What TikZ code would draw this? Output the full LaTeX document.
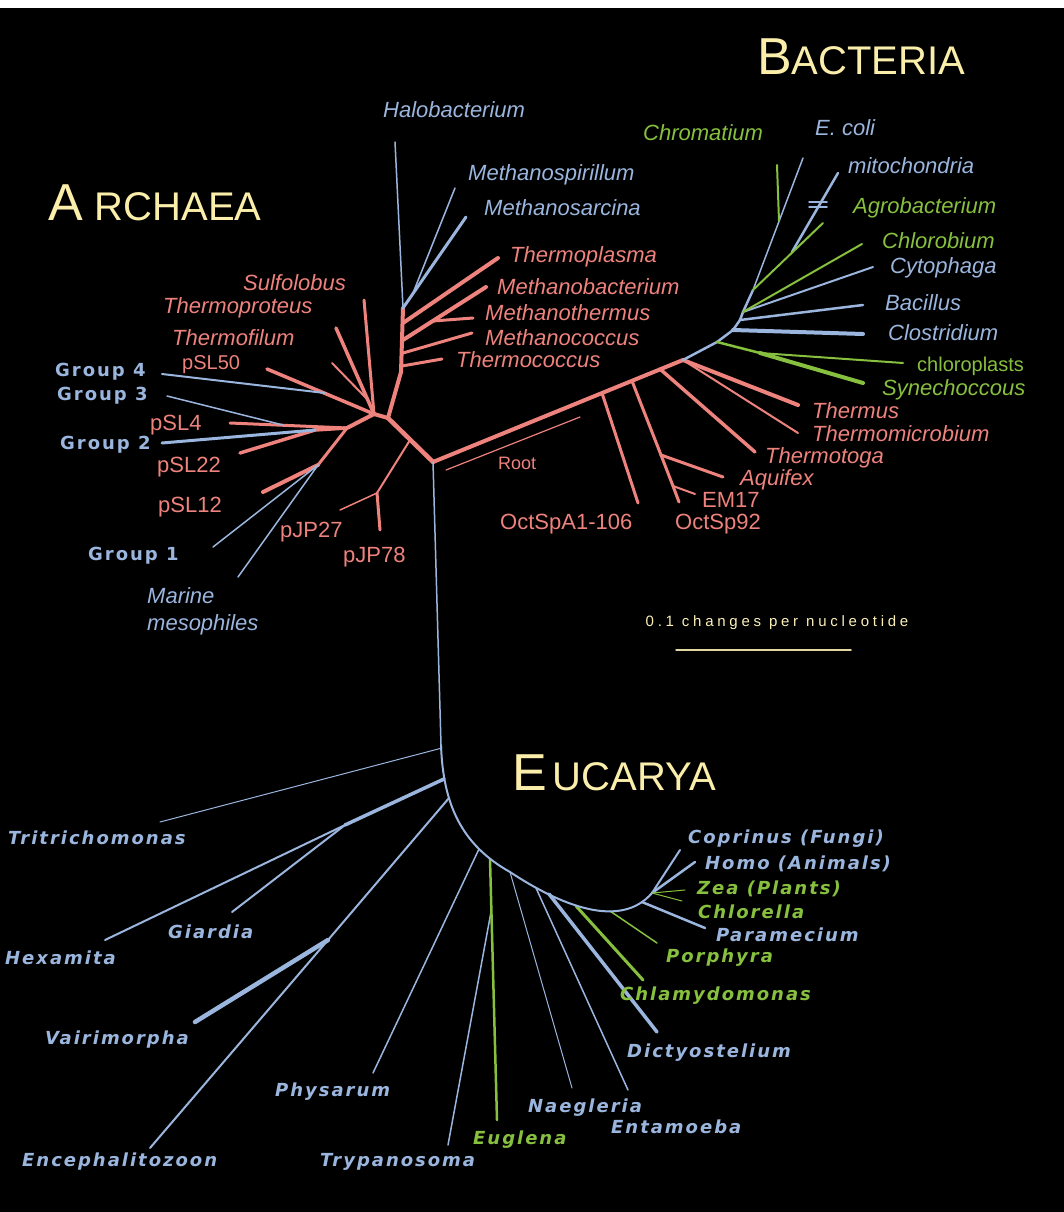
\documentclass[tikz,border=0pt]{standalone}
\usepackage{fontspec}
\setmainfont{Liberation Sans}
\newfontfamily\eufont[LetterSpace=11,BoldFont={DejaVu Sans Bold},BoldItalicFont={DejaVu Sans Bold Oblique}]{DejaVu Sans}
\newfontfamily\barfont[LetterSpace=25]{Liberation Sans}
\definecolor{ArchRed}{RGB}{238,130,125}
\definecolor{BlueGray}{RGB}{155,182,222}
\definecolor{LeafGreen}{RGB}{135,192,62}
\definecolor{Cream}{RGB}{250,238,170}

\begin{document}
\begin{tikzpicture}[x=1pt,y=-1pt,line cap=round,
ar/.style={ArchRed},bl/.style={BlueGray},gr/.style={LeafGreen},
sp/.style={inner sep=0pt,anchor=west,font=\fontsize{22}{27}\selectfont\itshape},
tg/.style={inner sep=0pt,anchor=west,text=ArchRed,font=\fontsize{22}{24}\selectfont},
eu/.style={inner sep=0pt,anchor=west,font=\eufont\fontsize{18}{20}\selectfont\bfseries\itshape},
grp/.style={inner sep=0pt,anchor=west,text=BlueGray,font=\eufont\fontsize{18}{20}\selectfont\bfseries},
dom/.style={inner sep=0pt,anchor=base west,text=Cream}]
\fill[white] (0,0) rectangle (1064,1212);\fill[black] (0,8) rectangle (1064,1212);
\foreach \n/\x/\y in {R0/433/462,J1/388/418,C1/374/414,E1/401/372,E2/403/308,P1/410/440,P2/377/493,pJ78/380/530,pJ27/340/510,
C2/347/428,C2b/315/430,G3b/283/425,G4b/325/393,C3/318/465,Sulf/364/300,Tpro/336/328,TfB/367/399,Tfil/332/363,pS50/267/369,
Grp4/162/374,pS4/230/423,Grp3/167/396,Grp2/162/443,pS22/240/453,pS12/263/492,Grp1/213/547,Mari/238/577,
e1/402/366,e2/403/353,e3/403/340,e4/403/323,Tcoc/442/359,Mcoc/472/333,Mbac/486/287,Mthb/433/321,Mthe/473/318,Tpla/498/258,
Halo/395/142,Msar/466/217,Mspb/413/293,Mspi/455/188,
B1/683/360,Oa/602/393,Oct1/638/503,Ba/632/381,Ba2/661/455,Ba3/673/486,Oct92/679/502,Aqui/723/477,EM/695/494,Tg/660/369,
Ttog/755/452,Thus/798/405,Tmic/798/433,B2/717/342,B3/733/330,B4/740/320,B5/743/312,B6/753/290,Bc/760/353,Chlp/903/363,
Syn/863/383,Clos/863/334,Baci/863/305,Cyto/873/267,Chlb/862/244,Agro/823/223,Mitb/792/252,Mito/838/173,Ecol/803/158,
Chrb/779/221,Chrm/777/165,bA1/809/202,bA2/827/202,bB1/809/207,bB2/827/207,rt1/446/470,rt2/580/417,sb1/676/650,sb2/851/650,
U0/441/745,T1/442/748,Trit/160/822,T2/444/779,Giab/345/825,Hexa/105/940,Giar/232/912,T3/449/798,Vaib/328/940,Ence/150/1148,
Vair/195/1022,T4/479/849,Phys/373/1073,T5/490/859,Eugl/497/1120,Tryb/491/912,Tryp/448/1145,T6/510/872,Naeg/572/1088,
T7/536/888,Enta/628/1090,T8/549/894,Dict/657/1032,T9/576/906,Chla/643/980,T10/610/911,Porp/657/943,T11/642/902,
Para/705/928,T12/652/893,Copr/680/850,Homo/695/862,Zea/685/890,Chlo/682/901}
\coordinate (\n) at (\x,\y);
\foreach \a/\b/\w in {R0/J1/4.5,J1/C1/4,J1/E1/4,E1/E2/4,C1/Sulf/3,C1/Tpro/3.5,TfB/Tfil/2,C1/pS50/3.5,C1/C2/4,C2/pS4/3,
C2/C2b/3.5,C2b/pS22/3.5,C2/C3/3,C3/pS12/4,P1/P2/2,P2/pJ78/3,P2/pJ27/1.5,e1/Tcoc/3,e2/Mcoc/3,e3/Mbac/4,Mthb/Mthe/3,
e4/Tpla/4,R0/B1/4,Oa/Oct1/3,Ba/Ba2/3,Ba2/Ba3/3,Ba3/Oct92/3,Ba2/Aqui/3,Ba3/EM/2,Tg/Ttog/3.5,B1/Thus/4,B1/Tmic/2,rt1/rt2/1.2}
\draw[ar,line width=\w] (\a)--(\b);
\foreach \a/\b/\w in {G4b/Grp4/2,G3b/Grp3/1.5,C2b/Grp2/3,C3/Grp1/1.5,C3/Mari/1.5,E2/Halo/1.5,E2/Msar/3,Mspb/Mspi/1.5,
B1/B2/2.5,B2/B3/2.5,B3/B4/2.5,B4/B5/2.5,B5/B6/2.5,B3/Clos/4,B4/Baci/2.5,B5/Cyto/2,Mitb/Mito/2.5,B6/Ecol/1.5,bA1/bA2/1.5,
bB1/bB2/1.5,R0/U0/1.5,T1/Trit/1,T2/Giab/3.5,Giab/Hexa/2,Giab/Giar/2,T3/Vaib/2,Vaib/Ence/2,Vaib/Vair/4.5,T4/Phys/1.5,
Tryb/Tryp/1.5,T6/Naeg/1,T7/Enta/1.5,T8/Dict/3.5,T11/Para/2.5,T12/Copr/2,T12/Homo/2.5}
\draw[bl,line width=\w] (\a)--(\b);
\foreach \a/\b/\w in {B2/Bc/2.5,Bc/Chlp/2,Bc/Syn/4,B5/Chlb/2,B6/Agro/2,Chrb/Chrm/2,T5/Eugl/2.5,T9/Chla/3,T10/Porp/1.5,
T12/Zea/1,T12/Chlo/1}
\draw[gr,line width=\w] (\a)--(\b);
\draw[bl,line width=2] (U0) .. controls (443,805) and (462,845) .. (T6) .. controls (560,905) and (620,930) .. (T12);
\draw[Cream!80!gray,line width=1.5] (sb1)--(sb2);
\foreach \x/\y/\t/\n in {243/283/Sulfolobus/lSulf,163/308/Thermoproteus/lTpro,172/338/Thermofilum/lTfil,510/257/Thermoplasma/lTpla,
497/287/Methanobacterium/lMbac,485/313/Methanothermus/lMthe,485/338/Methanococcus/lMcoc,456/360/Thermococcus/lTcoc,
812/411/Thermus/lThus,812/434/Thermomicrobium/lTmic,765/458/Thermotoga/lTtog,740/480/Aquifex/lAqui}
\node[sp,text=ArchRed] (\n) at (\x,\y) {\t};
\foreach \x/\y/\t/\n in {383/110/Halobacterium/lHalo,468/175/Methanospirillum/lMspi,484/208/Methanosarcina/lMsar,
815/128/E. coli/lEcol,848/166/mitochondria/lMito,890/268/Cytophaga/lCyto,885/303/Bacillus/lBaci,888/333/Clostridium/lClos}
\node[sp,text=BlueGray] (\n) at (\x,\y) {\t};
\foreach \x/\y/\t/\n in {643/133/Chromatium/lChrm,853/208/Agrobacterium/lAgro,882/241/Chlorobium/lChlb,882/390/Synechoccous/lSyn}
\node[sp,text=LeafGreen] (\n) at (\x,\y) {\t};
\node[sp,text=BlueGray,align=left] (lMari) at (147,611) {Marine\\mesophiles};
\foreach \x/\y/\t/\n in {150/425/pSL4/lpS4,157/467/pSL22/lpS22,158/507/pSL12/lpS12,280/532/pJP27/lpJ27,343/557/pJP78/lpJ78,
702/500/EM17/lEM,675/524/OctSp92/lOct92,500/524/OctSpA1-106/lOct1}
\node[tg] (\n) at (\x,\y) {\t};
\node[tg,font=\fontsize{20}{22}\selectfont] (lpS50) at (182,365) {pSL50};
\node[tg,font=\fontsize{18}{20}\selectfont] (lRoot) at (498,463) {Root};
\node[tg,text=LeafGreen,font=\fontsize{20}{22}\selectfont] (lChlp) at (917,366) {chloroplasts};
\foreach \x/\y/\t/\n in {55/372/Group 4/lG4,57/396/Group 3/lG3,60/445/Group 2/lG2,88/556/Group 1/lG1}
\node[grp] (\n) at (\x,\y) {\t};
\foreach \x/\y/\t/\n in {8/838/Tritrichomonas/lTrit,5/958/Hexamita/lHexa,168/932/Giardia/lGiar,45/1040/Vairimorpha/lVair,
22/1162/Encephalitozoon/lEnce,275/1092/Physarum/lPhys,320/1162/Trypanosoma/lTryp,528/1108/Naegleria/lNaeg,
611/1127/Entamoeba/lEnta,627/1053/Dictyostelium/lDict,716/935/Paramecium/lPara,705/864/Homo (Animals)/lHomo,
688/839/Coprinus (Fungi)/lCopr}
\node[eu,text=BlueGray] (\n) at (\x,\y) {\t};
\foreach \x/\y/\t/\n in {473/1140/Euglena/lEugl,620/996/Chlamydomonas/lChla,666/958/Porphyra/lPorp,698/912/Chlorella/lChlo,
697/889/Zea (Plants)/lZea}
\node[eu,text=LeafGreen] (\n) at (\x,\y) {\t};
\node[dom] (tBac) at (757,75) {\fontsize{52}{52}\selectfont B\fontsize{40}{40}\selectfont ACTERIA};
\node[dom] (tArc) at (48,220) {\fontsize{52}{52}\selectfont A\hspace{12pt}\fontsize{40}{40}\selectfont RCHAEA};
\node[dom] (tEuc) at (512,790) {\fontsize{52}{52}\selectfont E\hspace{6pt}\fontsize{40}{40}\selectfont UCARYA};
\node[inner sep=0pt,text=Cream!85!white,font=\barfont\fontsize{15}{17}\selectfont] (lScale) at (777,623) {0.1 changes per nucleotide};
\end{tikzpicture}
\end{document}
